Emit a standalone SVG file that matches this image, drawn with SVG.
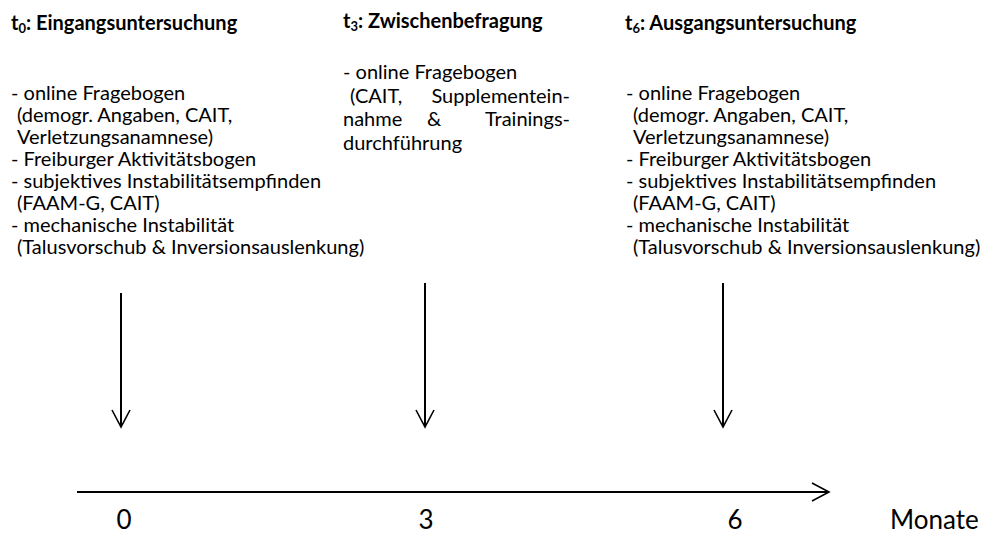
<svg xmlns="http://www.w3.org/2000/svg" width="986" height="535" viewBox="0 0 986 535">
<style>
  text { font-family: Lato, "Open Sans", "Liberation Sans", sans-serif; fill: #000; }
  .t { font-size: 20px; font-weight: bold; }
  .b { font-size: 20px; }
  .n { font-size: 26px; }
  .sub { font-size: 13px; }
  .ln { stroke: #000; stroke-width: 2; fill: none; }
</style>
<defs>
  <marker id="ah" viewBox="0 0 20 20" refX="18" refY="10" markerWidth="20" markerHeight="20" markerUnits="userSpaceOnUse" orient="auto">
    <path d="M1,1 L18,10 L1,19" stroke="#000" stroke-width="1.6" fill="none"/>
  </marker>
</defs>

<g id="t0">
  <text class="t" x="11" y="30">t<tspan class="sub" baseline-shift="-3">0</tspan>: Eingangsuntersuchung</text>
  <text class="b" x="11" y="100">- online Fragebogen</text>
  <text class="b" x="17" y="122">(demogr. Angaben, CAIT,</text>
  <text class="b" x="17" y="144">Verletzungsanamnese)</text>
  <text class="b" x="11" y="166">- Freiburger Aktivitätsbogen</text>
  <text class="b" x="11" y="188">- subjektives Instabilitätsempfinden</text>
  <text class="b" x="17" y="210">(FAAM-G, CAIT)</text>
  <text class="b" x="11" y="232">- mechanische Instabilität</text>
  <text class="b" x="17" y="254">(Talusvorschub &amp; Inversionsauslenkung)</text>
</g>

<g id="t3">
  <text class="t" x="343" y="28">t<tspan class="sub" baseline-shift="-3">3</tspan>: Zwischenbefragung</text>
  <text class="b" x="343" y="79">- online Fragebogen</text>
  <text class="b" x="350" y="102.5">(CAIT,</text>
  <text class="b" x="570" y="102.5" text-anchor="end">Supplementein-</text>
  <text class="b" x="343" y="126">nahme</text>
  <text class="b" x="427" y="126">&amp;</text>
  <text class="b" x="570" y="126" text-anchor="end">Trainings-</text>
  <text class="b" x="343" y="149.5">durchführung</text>
</g>

<g id="t6">
  <text class="t" x="625" y="30">t<tspan class="sub" baseline-shift="-3">6</tspan>: Ausgangsuntersuchung</text>
  <text class="b" x="626" y="100">- online Fragebogen</text>
  <text class="b" x="633" y="122">(demogr. Angaben, CAIT,</text>
  <text class="b" x="633" y="144">Verletzungsanamnese)</text>
  <text class="b" x="626" y="166">- Freiburger Aktivitätsbogen</text>
  <text class="b" x="626" y="188">- subjektives Instabilitätsempfinden</text>
  <text class="b" x="633" y="210">(FAAM-G, CAIT)</text>
  <text class="b" x="626" y="232">- mechanische Instabilität</text>
  <text class="b" x="633" y="254">(Talusvorschub &amp; Inversionsauslenkung)</text>
</g>

<g id="axis-labels">
  <text class="n" x="124" y="529" text-anchor="middle">0</text>
  <text class="n" x="426" y="529" text-anchor="middle">3</text>
  <text class="n" x="735" y="529" text-anchor="middle">6</text>
  <text class="n" x="890" y="529">Monate</text>
</g>

<g id="connectors">
  <line class="ln" x1="121" y1="293" x2="121" y2="427" marker-end="url(#ah)"/>
  <line class="ln" x1="425" y1="283" x2="425" y2="427" marker-end="url(#ah)"/>
  <line class="ln" x1="723" y1="283" x2="723" y2="427" marker-end="url(#ah)"/>
  <line class="ln" x1="77" y1="492" x2="829" y2="492" marker-end="url(#ah)"/>
</g>
</svg>
